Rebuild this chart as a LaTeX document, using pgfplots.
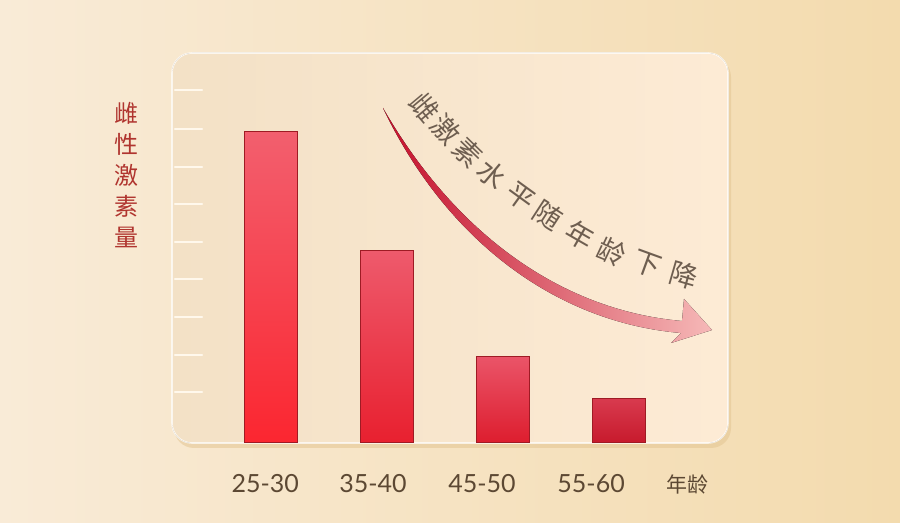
\documentclass[border=0pt]{standalone}
\usepackage{fontspec}
\setmainfont{Lato}
\newfontfamily\cjk{Noto Sans CJK SC}
\usepackage{pgfplots}
\pgfplotsset{compat=1.18}

\definecolor{bgL}{HTML}{F9EBD7}
\definecolor{bgM}{HTML}{F7E5C8}
\definecolor{bgR}{HTML}{F3DBAE}
\definecolor{panelL}{HTML}{F3E1C6}
\definecolor{panelR}{HTML}{FDEBD5}
\definecolor{shadowc}{HTML}{E3C592}
\definecolor{tickc}{HTML}{FFF8EC}
\definecolor{labc}{HTML}{5C4833}
\definecolor{ylabc}{HTML}{B0352F}
\definecolor{arrtext}{HTML}{6E5E50}
\definecolor{arrL}{HTML}{C4102C}
\definecolor{arrM}{HTML}{E5576A}
\definecolor{arrR}{HTML}{F6B9B8}
\definecolor{edgec}{HTML}{9E1B24}
\definecolor{b1t}{HTML}{F25F6E}\definecolor{b1b}{HTML}{FB2630}
\definecolor{b2t}{HTML}{EE5A6C}\definecolor{b2b}{HTML}{E8202F}
\definecolor{b3t}{HTML}{EA5468}\definecolor{b3b}{HTML}{DD1D2E}
\definecolor{b4t}{HTML}{D83A4E}\definecolor{b4b}{HTML}{C71A2C}

\begin{document}
\begin{tikzpicture}
% background, in pixels of the 900x523 reference (1px = 0.5pt, origin top left)
\begin{scope}[x=0.5pt,y=-0.5pt]
  \path[use as bounding box] (0,0) rectangle (900,523);
  \fill[left color=bgL, middle color=bgM, right color=bgR] (0,0) rectangle (900,523);
  \fill[shadowc, opacity=0.55, rounded corners=10pt] (174,57) rectangle (731,448);
  \fill[left color=panelL, right color=panelR, rounded corners=10pt] (172,53) rectangle (728,443);
  \draw[white, opacity=0.7, line width=0.8pt, rounded corners=10pt] (172,53) rectangle (728,443);
\end{scope}

\begin{axis}[
  at={(86pt,-221.5pt)}, anchor=south west,
  scale only axis, width=278pt, height=195pt,
  xmin=-0.853, xmax=3.94, ymin=0, ymax=390,
  axis line style={draw=none},
  xtick={-0.05,0.88,1.82,2.76,3.59},
  xticklabels={25-30,35-40,45-50,55-60,{\cjk\fontsize{10.5pt}{12pt}\selectfont 年龄}},
  xtick style={draw=none},
  xticklabel style={anchor=center, yshift=-20.5pt, text=labc,
    font=\fontsize{12.5pt}{14pt}\selectfont},
  ytick={51,88,126,164,201,239,276,314,353},
  yticklabels={},
  ytick pos=left, tick align=inside,
  major tick length=13.5pt,
  ytick style={draw=tickc, line width=1.2pt, line cap=round, xshift=1.5pt},
  ylabel={雌\\性\\激\\素\\量},
  ylabel style={rotate=-90, at={(rel axis cs:-0.0827,0.688)}, anchor=center,
    align=center, text=ylabc, font=\cjk\fontsize{12pt}{15.5pt}\selectfont},
]
\addplot[ybar, bar width=26.5pt, bar shift=0pt, draw=edgec, line width=0.5pt,
  top color=b1t, bottom color=b1b] coordinates {(0,311)};
\addplot[ybar, bar width=26.5pt, bar shift=0pt, draw=edgec, line width=0.5pt,
  top color=b2t, bottom color=b2b] coordinates {(1,192)};
\addplot[ybar, bar width=26.5pt, bar shift=0pt, draw=edgec, line width=0.5pt,
  top color=b3t, bottom color=b3b] coordinates {(2,86)};
\addplot[ybar, bar width=26.5pt, bar shift=0pt, draw=edgec, line width=0.5pt,
  top color=b4t, bottom color=b4b] coordinates {(3,44)};
\end{axis}

% falling arrow and its caption
\begin{scope}[x=0.5pt,y=-0.5pt]
  \fill[left color=arrL, middle color=arrM, right color=arrR]
    (383,108) .. controls (452,228) and (556,310) .. (682,321)
    -- (684,299) -- (712,330) -- (671,343) -- (681,333)
    .. controls (552,322) and (444,236) .. (383,108) -- cycle;
  \foreach \ch/\px/\py/\r in {雌/425/107/-50, 激/446/129/-47, 素/468/153/-44,
      水/492/174/-40, 平/521/197/-36, 随/548/215/-33, 年/580/235/-30,
      龄/612/252/-25, 下/647/264/-20, 降/684/275/-16}
    \node[rotate=\r, text=arrtext, inner sep=0pt,
      font=\cjk\fontsize{14pt}{16pt}\selectfont] at (\px,\py) {\ch};
\end{scope}
\end{tikzpicture}
\end{document}
